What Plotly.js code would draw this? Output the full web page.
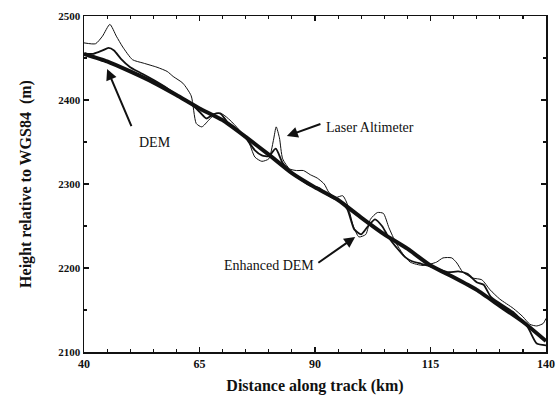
<!DOCTYPE html>
<html>
<head>
<meta charset="utf-8">
<script src="https://cdn.plot.ly/plotly-3.0.1.min.js"></script>
<style>
  html, body { margin: 0; padding: 0; background: #ffffff; }
  #chart { width: 559px; height: 400px; }
</style>
</head>
<body>
<div id="chart"></div>
<script>
// ---- Data ----
const demX = [40, 45, 50, 55, 60, 65, 70, 75, 80, 85, 90, 95, 100, 105, 110, 115, 120, 125, 130, 135, 140];
const demY = [2455, 2446, 2434, 2421, 2406, 2390, 2376, 2356, 2335, 2313, 2296, 2281, 2260, 2240, 2223, 2203, 2189, 2174, 2155, 2136, 2113];

const enhX = [40, 42, 44, 45.3, 46.5, 48, 50, 52, 55, 58, 61, 63, 65, 66.5, 68, 69.5, 71, 73, 75, 77, 78.5, 80, 81.5, 83, 85, 87, 89, 91, 92.5, 94, 95.5, 97, 98.5, 100, 101.5, 103, 104.5, 106, 108, 109.5, 111, 113, 115, 117, 119, 121, 123, 125, 126.5, 128, 130, 133, 136, 138, 140];
const enhY = [2455, 2455, 2459, 2462, 2459, 2449, 2439, 2433, 2424, 2414, 2402, 2396, 2386, 2378, 2383, 2384, 2374, 2366, 2355, 2340, 2334, 2333, 2342, 2325, 2313, 2305, 2298, 2295, 2288, 2283, 2279, 2270, 2246, 2240, 2250, 2258, 2250, 2236, 2222, 2213, 2208, 2205, 2202, 2198, 2195, 2196, 2193, 2183, 2180, 2166, 2158, 2147, 2130, 2110, 2108];

const lasX = [40, 42.5, 44, 45.6, 47, 48.4, 50.5, 52.8, 55.8, 58, 59.3, 61.4, 63.2, 64.3, 65.5, 67, 68.5, 70, 71.6, 73.5, 75.5, 77, 78.5, 80, 81, 81.6, 82.3, 83, 84.5, 86, 87.5, 89, 90.5, 92, 93, 94.5, 96, 97, 98.3, 99.5, 101, 102, 103.5, 104.8, 106, 107.5, 109, 110.6, 113.4, 116.3, 117.7, 119.6, 120.7, 122, 124.2, 126.1, 127.9, 130, 132.9, 135, 136.5, 138, 139.4, 140];
const lasY = [2468, 2467, 2476, 2490, 2476, 2463, 2448, 2444, 2439, 2434, 2428, 2420, 2405, 2372, 2368, 2376, 2384, 2383, 2376, 2365, 2352, 2332, 2327, 2330, 2352, 2368, 2355, 2330, 2318, 2316, 2316, 2311, 2307, 2300, 2290, 2284, 2286, 2276, 2250, 2237, 2240, 2258, 2266, 2265, 2248, 2230, 2217, 2207, 2203, 2207, 2212, 2212, 2206, 2195, 2188, 2186, 2174, 2163, 2152, 2142, 2133, 2131, 2134, 2140];

const xTicks = [40, 65, 90, 115, 140];
const yTicks = [2100, 2200, 2300, 2400, 2500];

const serif = "'Liberation Serif', 'DejaVu Serif', serif";
const ink = '#111111';

const traces = [
  { x: lasX, y: lasY, name: 'Laser Altimeter', mode: 'lines',
    line: { color: ink, width: 1, shape: 'spline', smoothing: 0.6 } },
  { x: enhX, y: enhY, name: 'Enhanced DEM', mode: 'lines',
    line: { color: ink, width: 1.8, shape: 'spline', smoothing: 0.6 } },
  { x: demX, y: demY, name: 'DEM', mode: 'lines',
    line: { color: ink, width: 4, shape: 'spline', smoothing: 0.5 } }
];

const arrowStyle = { showarrow: true, arrowhead: 2, arrowsize: 1.1, arrowwidth: 2, arrowcolor: ink,
  axref: 'x', ayref: 'y', text: '', standoff: 0, startstandoff: 0 };

const layout = {
  width: 559, height: 400,
  margin: { l: 84, r: 13, t: 15.5, b: 48 },
  paper_bgcolor: '#ffffff', plot_bgcolor: '#ffffff',
  showlegend: false,
  font: { family: serif, color: ink },
  xaxis: {
    range: [40, 140], tickvals: xTicks, ticktext: xTicks.map(String),
    ticks: 'inside', ticklen: 5, tickwidth: 1.5, tickcolor: ink,
    minor: { dtick: 5, ticks: 'inside', ticklen: 3, tickwidth: 1.2, tickcolor: ink, showgrid: false },
    showline: true, linecolor: ink, linewidth: 1.5, mirror: 'ticks',
    showgrid: false, zeroline: false,
    tickfont: { family: serif, size: 12, color: ink, weight: 'bold' },
    title: { text: '<b>Distance along track (km)</b>', font: { family: serif, size: 16, color: ink }, standoff: 10 }
  },
  yaxis: {
    range: [2100, 2500], tickvals: yTicks, ticktext: yTicks.map(String),
    ticks: 'inside', ticklen: 5, tickwidth: 1.5, tickcolor: ink,
    minor: { dtick: 50, ticks: 'inside', ticklen: 3, tickwidth: 1.2, tickcolor: ink, showgrid: false },
    showline: true, linecolor: ink, linewidth: 1.5, mirror: 'ticks',
    showgrid: false, zeroline: false,
    tickfont: { family: serif, size: 11, color: ink, weight: 'bold' },
    title: { text: '<b>Height relative to WGS84  (m)</b>', font: { family: serif, size: 16, color: ink }, standoff: 22 }
  },
  annotations: [
    Object.assign({}, arrowStyle, { x: 45.0, y: 2437, ax: 50.4, ay: 2367 }),
    { x: 55.4, y: 2350, text: 'DEM', showarrow: false, xref: 'x', yref: 'y',
      font: { family: serif, size: 14, color: ink } },
    Object.assign({}, arrowStyle, { x: 83.9, y: 2357, ax: 91.5, ay: 2372 }),
    { x: 91.9, y: 2367, text: 'Laser Altimeter', showarrow: false, xref: 'x', yref: 'y', xanchor: 'left',
      font: { family: serif, size: 14, color: ink } },
    Object.assign({}, arrowStyle, { x: 98.7, y: 2237, ax: 90.4, ay: 2205 }),
    { x: 90.2, y: 2203, text: 'Enhanced DEM', showarrow: false, xref: 'x', yref: 'y', xanchor: 'right',
      font: { family: serif, size: 14, color: ink } }
  ]
};

Plotly.newPlot('chart', traces, layout, { staticPlot: true, displayModeBar: false });
</script>
</body>
</html>
